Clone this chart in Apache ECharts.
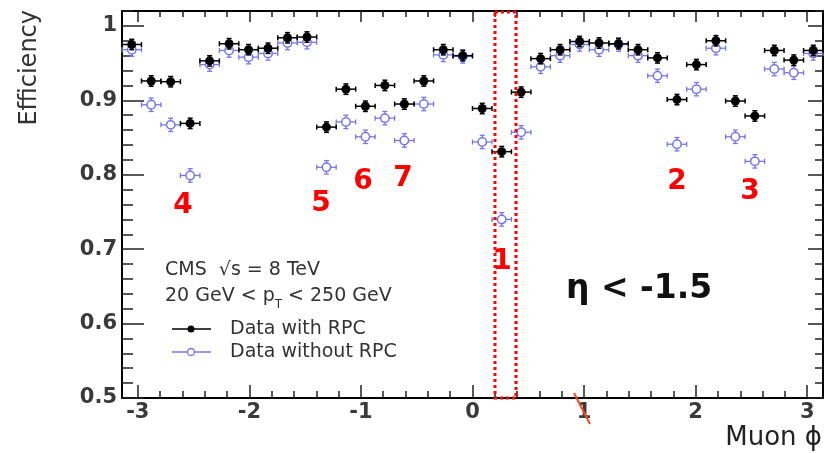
<!DOCTYPE html>
<html>
<head>
<meta charset="utf-8">
<script src="https://cdn.jsdelivr.net/npm/echarts@6/dist/echarts.min.js"></script>
<style>
html,body{margin:0;padding:0;background:#fff;}
#chart{width:825px;height:453px;}
</style>
</head>
<body>
<div id="chart"></div>
<script>
// Bin centres of muon phi, in degrees (36 bins of 10 degrees)
var binCentersDeg = [-175,-165,-155,-145,-135,-125,-115,-105,-95,-85,-75,-65,-55,-45,-35,-25,-15,-5,
                     5,15,25,35,45,55,65,75,85,95,105,115,125,135,145,155,165,175];
var binHalfWidthDeg = 5;
// Efficiency, data with RPC
var withRPC = [0.975,0.926,0.925,0.869,0.953,0.976,0.968,0.970,0.984,0.985,0.864,0.915,0.892,0.920,0.895,0.926,0.968,0.960,
               0.889,0.831,0.911,0.956,0.968,0.979,0.977,0.976,0.968,0.957,0.901,0.948,0.980,0.899,0.879,0.967,0.954,0.967];
// Efficiency, data without RPC
var withoutRPC = [0.968,0.894,0.867,0.799,0.948,0.967,0.958,0.963,0.977,0.978,0.810,0.871,0.851,0.876,0.846,0.895,0.961,0.959,
                  0.844,0.740,0.857,0.945,0.960,0.975,0.968,0.975,0.960,0.933,0.841,0.915,0.970,0.851,0.818,0.942,0.937,0.963];
var errWithRPC = 0.007;
var errWithoutRPC = 0.009;
// Axis ticks
var xMajorTicks = [-3,-2,-1,0,1,2,3];
var yMajorTicks = [0.5,0.6,0.7,0.8,0.9,1.0];
var xMinorTicks = [];
for (var i = -15; i <= 15; i++) xMinorTicks.push(i / 5);
var yMinorTicks = [];
for (var j = 25; j <= 51; j++) yMinorTicks.push(j / 50);

var D2R = Math.PI / 180;
function toData(vals) {
  return binCentersDeg.map(function (d, k) { return [d * D2R, vals[k]]; });
}

var BLUE = '#7676ec';
var FONT = 'DejaVu Sans';

function makeRender(color, filled, err) {
  return function (params, api) {
    var x = api.value(0), y = api.value(1);
    var hw = binHalfWidthDeg * D2R;
    var c = api.coord([x, y]);
    var l = api.coord([Math.max(x - hw, -Math.PI), y]);
    var r = api.coord([Math.min(x + hw, Math.PI), y]);
    var t = api.coord([x, y + err]);
    var b = api.coord([x, y - err]);
    var rad = filled ? 4.5 : 4.2;
    var cap = 2.5;
    var ls = { stroke: color, lineWidth: filled ? 1.5 : 1.3 };
    var ch = [];
    if (filled) {
      ch.push({ type: 'line', shape: { x1: l[0], y1: c[1], x2: r[0], y2: c[1] }, style: ls });
      ch.push({ type: 'line', shape: { x1: c[0], y1: t[1], x2: c[0], y2: b[1] }, style: ls });
    } else {
      ch.push({ type: 'line', shape: { x1: l[0], y1: c[1], x2: c[0] - rad, y2: c[1] }, style: ls });
      ch.push({ type: 'line', shape: { x1: c[0] + rad, y1: c[1], x2: r[0], y2: c[1] }, style: ls });
      ch.push({ type: 'line', shape: { x1: c[0], y1: t[1], x2: c[0], y2: c[1] - rad }, style: ls });
      ch.push({ type: 'line', shape: { x1: c[0], y1: c[1] + rad, x2: c[0], y2: b[1] }, style: ls });
    }
    ch.push({ type: 'line', shape: { x1: l[0], y1: c[1] - cap, x2: l[0], y2: c[1] + cap }, style: ls });
    ch.push({ type: 'line', shape: { x1: r[0], y1: c[1] - cap, x2: r[0], y2: c[1] + cap }, style: ls });
    ch.push({ type: 'line', shape: { x1: c[0] - cap, y1: t[1], x2: c[0] + cap, y2: t[1] }, style: ls });
    ch.push({ type: 'line', shape: { x1: c[0] - cap, y1: b[1], x2: c[0] + cap, y2: b[1] }, style: ls });
    ch.push({ type: 'circle', shape: { cx: c[0], cy: c[1], r: rad },
      style: filled ? { fill: color } : { fill: 'rgba(0,0,0,0)', stroke: color, lineWidth: 1.5 } });
    return { type: 'group', children: ch };
  };
}

function xAx(pos, ticks, len, labels, line) {
  return {
    type: 'value', position: pos, min: -Math.PI, max: Math.PI,
    axisLine: { show: line, onZero: false, lineStyle: { color: '#000', width: 2 } },
    axisTick: { show: true, inside: true, length: len, customValues: ticks, lineStyle: { color: '#222', width: 1.5 } },
    axisLabel: labels ? { show: true, customValues: ticks, margin: 4, fontFamily: FONT, fontSize: 21, fontWeight: 'bold', color: '#3a3a3a' } : { show: false },
    splitLine: { show: false }
  };
}
function yAx(pos, ticks, len, labels, line) {
  return {
    type: 'value', position: pos, min: 0.5, max: 1.02,
    axisLine: { show: line, onZero: false, lineStyle: { color: '#000', width: 2 } },
    axisTick: { show: true, inside: true, length: len, customValues: ticks, lineStyle: { color: '#222', width: 1.5 } },
    axisLabel: labels ? { show: true, customValues: ticks, margin: 5, fontFamily: FONT, fontSize: 21, fontWeight: 'bold', color: '#3a3a3a',
      formatter: function (v) { return Math.abs(v - 1) < 1e-9 ? '1' : v.toFixed(1); } } : { show: false },
    splitLine: { show: false }
  };
}

var chart = echarts.init(document.getElementById('chart'), null, { renderer: 'canvas' });
var txt = function (x, y, s, extra) {
  var st = Object.assign({ text: s, fontFamily: FONT, fill: '#333' }, extra.style || {});
  return Object.assign({ type: 'text', x: x, y: y, z: 100 }, extra, { style: st });
};
var red = function (x, y, s) {
  return txt(x, y, s, { style: { fontSize: 28, fontWeight: 'bold', fill: '#ff0000', align: 'center', verticalAlign: 'middle' } });
};

chart.setOption({
  animation: false,
  backgroundColor: '#fff',
  grid: { left: 122, right: 2, top: 11, bottom: 55, containLabel: false },
  xAxis: [
    xAx('bottom', xMajorTicks, 13, true, true),
    xAx('bottom', xMinorTicks, 7, false, false),
    xAx('top', xMajorTicks, 11, false, true),
    xAx('top', xMinorTicks, 6, false, false)
  ],
  yAxis: [
    yAx('left', yMajorTicks, 22, true, true),
    yAx('left', yMinorTicks, 11, false, false),
    yAx('right', yMajorTicks, 15, false, true),
    yAx('right', yMinorTicks, 8, false, false)
  ],
  series: [
    { type: 'custom', name: 'Data without RPC', xAxisIndex: 0, yAxisIndex: 0, renderItem: makeRender(BLUE, false, errWithoutRPC), data: toData(withoutRPC), z: 5 },
    { type: 'custom', name: 'Data with RPC', xAxisIndex: 0, yAxisIndex: 0, renderItem: makeRender('#000', true, errWithRPC), data: toData(withRPC), z: 6 }
  ],
  graphic: [
    txt(30, 10, 'Efficiency', { rotation: Math.PI / 2, style: { fontSize: 24, align: 'right', verticalAlign: 'middle', fill: '#333' } }),
    txt(822, 438, 'Muon \u03d5', { style: { fontSize: 26, align: 'right', verticalAlign: 'middle', fill: '#222' } }),
    txt(165, 270, 'CMS  \u221as = 8 TeV', { style: { fontSize: 19, align: 'left', verticalAlign: 'middle' } }),
    txt(165, 296, '{a|20 GeV < p}{s|T}{a| < 250 GeV}', { style: { align: 'left', verticalAlign: 'middle',
      rich: { a: { fontSize: 19, fontFamily: FONT, fill: '#333', lineHeight: 30 },
              s: { fontSize: 12, fontFamily: FONT, fill: '#333', lineHeight: 14, verticalAlign: 'bottom' } } } }),
    { type: 'line', shape: { x1: 172, y1: 329, x2: 211, y2: 329 }, style: { stroke: '#000', lineWidth: 1.5 }, z: 100 },
    { type: 'circle', shape: { cx: 191, cy: 329, r: 3.5 }, style: { fill: '#000' }, z: 100 },
    { type: 'line', shape: { x1: 172, y1: 352, x2: 211, y2: 352 }, style: { stroke: BLUE, lineWidth: 1.3 }, z: 100 },
    { type: 'circle', shape: { cx: 191, cy: 352, r: 3.5 }, style: { fill: '#fff', stroke: BLUE, lineWidth: 1.3 }, z: 101 },
    txt(230, 329, 'Data with RPC', { style: { fontSize: 19, align: 'left', verticalAlign: 'middle' } }),
    txt(230, 352, 'Data without RPC', { style: { fontSize: 19, align: 'left', verticalAlign: 'middle' } }),
    txt(566, 289, '\u03b7 < -1.5', { style: { fontSize: 33, fontWeight: 'bold', align: 'left', verticalAlign: 'middle', fill: '#111' } }),
    red(183, 206, '4'), red(321, 204, '5'), red(363, 182, '6'), red(403, 179, '7'),
    red(677, 182, '2'), red(750, 192, '3'), red(502, 262, '1'),
    { type: 'rect', shape: { x: 495, y: 12, width: 21, height: 386 }, style: { fill: 'none', stroke: '#ff0000', lineWidth: 3, lineDash: [3, 3] }, z: 90 },
    { type: 'line', shape: { x1: 574, y1: 393, x2: 590, y2: 424 }, style: { stroke: '#ff4a1a', lineWidth: 2 }, z: 100 }
  ]
});
</script>
</body>
</html>
